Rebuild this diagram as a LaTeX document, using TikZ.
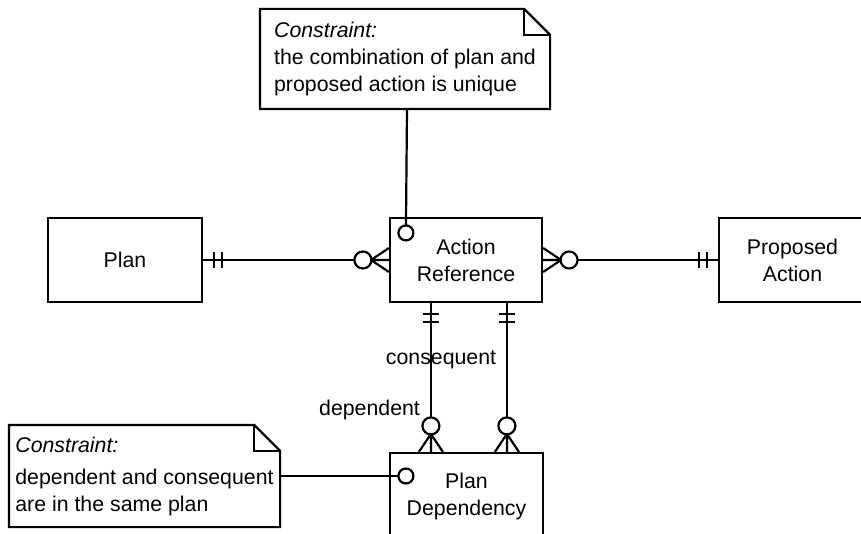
\documentclass[tikz,border=0pt]{standalone}
\usepackage{fontspec}
\setmainfont{Liberation Sans}
\usetikzlibrary{calc}

\tikzset{
  entity/.style={draw, align=center, inner sep=0pt,
    minimum height=84pt, font=\fontsize{21.3}{27}\selectfont},
  notetext/.style={align=left, inner sep=0pt,
    font=\fontsize{21.3}{27}\selectfont},
  rolelabel/.style={font=\fontsize{21.3}{27}\selectfont, inner sep=0pt},
  % crow's foot with a ring (zero or many)
  zeromany/.pic={
    \draw (0,12) -- (18,0) -- (0,-12) (0,0) -- (18,0);
    \draw[fill=white] (26,0) circle (8.5);
  },
  % two bars (exactly one)
  oneonly/.pic={
    \draw (11,-8) -- (11,8) (19,-8) -- (19,8);
  },
  % ring where a note hooks into a box
  ringend/.pic={
    \draw[fill=white] (0,0) circle (7.5);
  }
}

\begin{document}
\begin{tikzpicture}[x=1pt,y=-1pt,line width=2.2pt]
\useasboundingbox (0,0) rectangle (861,534);
\clip (0,0) rectangle (861,534);

% entities
\node[entity, minimum width=154pt] (plan) at (125,260) {Plan};
\node[entity, minimum width=152pt] (actref) at (466,260) {Action\\Reference};
\node[entity, minimum width=147pt] (propact) at (792.5,260) {Proposed\\Action};
\node[entity, minimum width=153pt, minimum height=86pt] (plandep) at (466.5,496) {Plan\\Dependency};

% constraint notes
\node[notetext, minimum width=288pt, minimum height=98pt] (note1) at (405,59)
  {\textit{Constraint:}\\the combination of plan and\\proposed action is unique};
\node[notetext, minimum width=269pt, minimum height=100pt] (note2) at (144.5,476)
  {\textit{Constraint:}\\[5pt]dependent and consequent\\are in the same plan};

\draw ($(note1.north east)+(-26,0)$) -- (note1.north west) -- (note1.south west)
  -- (note1.south east) -- ($(note1.north east)+(0,26)$) -- cycle;
\draw ($(note1.north east)+(-26,0)$) |- ($(note1.north east)+(0,26)$);
\draw ($(note2.north east)+(-26,0)$) -- (note2.north west) -- (note2.south west)
  -- (note2.south east) -- ($(note2.north east)+(0,26)$) -- cycle;
\draw ($(note2.north east)+(-26,0)$) |- ($(note2.north east)+(0,26)$);

% relationships
\draw (plan) -- (actref);
\pic at (plan.east) {oneonly};
\pic[rotate=180] at (actref.west) {zeromany};

\draw (actref) -- (propact);
\pic at (actref.east) {zeromany};
\pic[rotate=180] at (propact.west) {oneonly};

\draw ([xshift=42pt]actref.south west) -- ([xshift=42pt]plandep.north west);
\pic[rotate=-90] at ([xshift=42pt]actref.south west) {oneonly};
\pic[rotate=90] at ([xshift=42pt]plandep.north west) {zeromany};

\draw ([xshift=118pt]actref.south west) -- ([xshift=118pt]plandep.north west);
\pic[rotate=-90] at ([xshift=118pt]actref.south west) {oneonly};
\pic[rotate=90] at ([xshift=118pt]plandep.north west) {zeromany};

\node[rolelabel] (conslbl) at (441,360) {consequent};
\node[rolelabel, anchor=east] (deplbl) at (421,410) {dependent};

% notes hooked to the entities
\coordinate (ring1) at ([xshift=17pt,yshift=-16pt]actref.north west);
\coordinate (ring2) at ([xshift=17pt]plandep.west |- note2.east);
\draw ([xshift=2pt]note1.south) -- (ring1);
\pic at (ring1) {ringend};
\draw (note2.east) -- (ring2);
\pic at (ring2) {ringend};
\end{tikzpicture}
\end{document}
